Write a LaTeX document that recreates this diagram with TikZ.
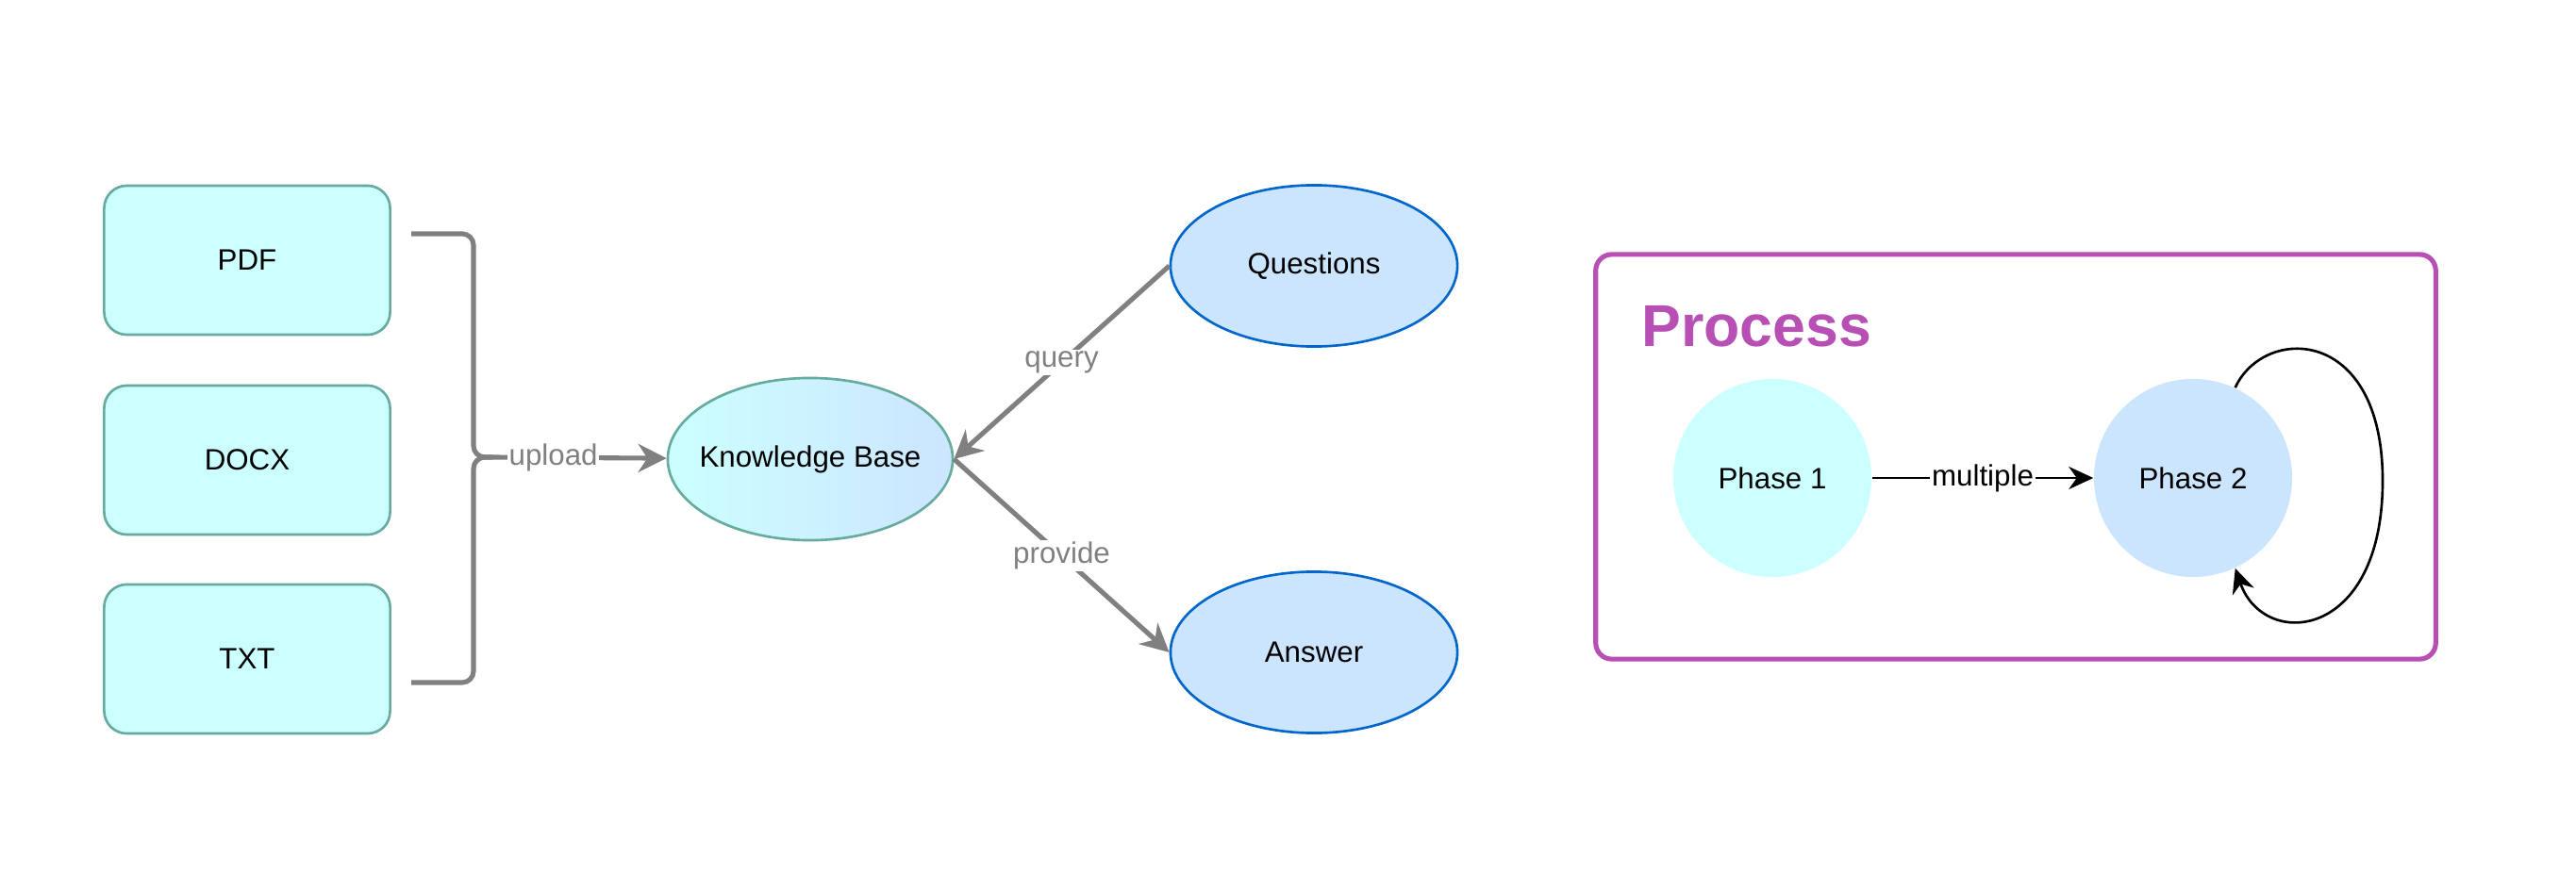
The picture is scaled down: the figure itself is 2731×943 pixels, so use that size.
\documentclass[tikz,border=0pt]{standalone}
\usepackage{fontspec}
\setmainfont{Liberation Sans}
\usetikzlibrary{arrows.meta,shapes.geometric}
\definecolor{docfill}{HTML}{CCFFFF}
\definecolor{docline}{HTML}{67AB9F}
\definecolor{askfill}{HTML}{CCE5FF}
\definecolor{askline}{HTML}{0066CC}
\definecolor{procline}{HTML}{B84FB4}
\definecolor{edgegray}{HTML}{808080}

\begin{document}
\begin{tikzpicture}[x=0.01cm,y=-0.01cm,>={Stealth[length=0.26cm,width=0.24cm]},
  font=\fontsize{8.9}{10.7}\selectfont,
  doc node/.style={draw=docline,fill=docfill,line width=0.75pt,rounded corners=0.24cm,
    minimum width=3.03cm,minimum height=1.58cm},
  kb node/.style={ellipse,draw=docline,left color=docfill,right color=askfill,line width=0.75pt,
    minimum width=3.02cm,minimum height=1.72cm,inner xsep=-0.15cm},
  ask node/.style={ellipse,draw=askline,fill=askfill,line width=0.75pt,
    minimum width=3.04cm,minimum height=1.71cm},
  phase node/.style={circle,minimum size=2.1cm},
  gray edge/.style={draw=edgegray,line width=1.45pt,-{Stealth[length=0.3cm,width=0.3cm]}},
  gray label/.style={fill=white,text=edgegray,inner sep=0.5pt},
  black edge/.style={draw=black,line width=0.75pt,->}]
  \useasboundingbox (0,0) rectangle (2731,943);
  % documents
  \node[doc node]  (pdf)  at (262,276)  {PDF};
  \node[doc node]  (docx) at (262,488)  {DOCX};
  \node[doc node]  (txt)  at (262,699)  {TXT};
  \node[kb node]   (kb)   at (859,487)  {Knowledge Base};
  \node[ask node]  (q)    at (1393,282) {Questions};
  \node[ask node]  (a)    at (1393,692) {Answer};
  % process box
  \node[draw=procline,line width=1.45pt,rounded corners=0.17cm,
    minimum width=8.9cm,minimum height=4.29cm] (proc) at (2137,484.5) {};
  \node[anchor=base west,text=procline,font=\fontsize{17.8}{21}\selectfont\bfseries]
    (title) at (1728,367) {Process};
  \node[phase node,fill=docfill] (p1) at (1879,507) {Phase 1};
  \node[phase node,fill=askfill] (p2) at (2325,507) {Phase 2};
  \coordinate (tip) at (522,485);
  \coordinate (loopR) at (2526,510);
  \draw[edgegray,line width=1.45pt,rounded corners=0.12cm]
    (436,248) -- (502,248) -- (502,485) -- (tip);
  \draw[edgegray,line width=1.45pt,rounded corners=0.12cm]
    (436,724) -- (502,724) -- (502,485) -- (tip);
  \path
    (tip)     edge [gray edge] node[gray label,pos=0.35] {upload} (kb)
    (q.west)  edge [gray edge] node[gray label] {query} (kb.east)
    (kb.east) edge [gray edge] node[gray label] {provide} (a.west)
    (p1)      edge [black edge] node[fill=white,inner sep=0.5pt] {multiple} (p2);
  \draw[black edge] (p2.65) .. controls (2400,345) and (2526,345) .. (loopR)
    .. controls (2526,680) and (2400,690) .. (p2.-65);
\end{tikzpicture}
\end{document}
